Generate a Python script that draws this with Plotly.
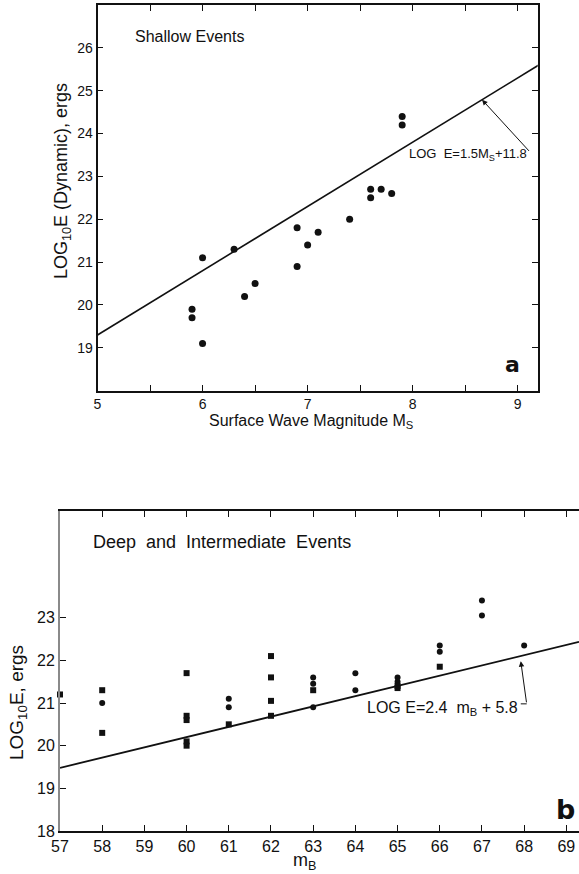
import plotly.graph_objects as go

# ---------------- Panel a: shallow events ----------------
ms_vals = [5.9, 5.9, 6.0, 6.0, 6.3, 6.4, 6.5, 6.9, 6.9, 7.0, 7.1, 7.4, 7.6, 7.6, 7.7, 7.8, 7.9, 7.9]
loge_a = [19.9, 19.7, 19.1, 21.1, 21.3, 20.2, 20.5, 21.8, 20.9, 21.4, 21.7, 22.0, 22.7, 22.5, 22.7, 22.6, 24.4, 24.2]
slope_a, icpt_a = 1.5, 11.8
line_a_x = [5.0, 9.2]

# ---------------- Panel b: deep and intermediate events ----------------
mb_circ = [58, 61, 61, 63, 63, 63, 64, 64, 65, 65, 66, 66, 67, 67, 68]
loge_b_circ = [21.0, 21.1, 20.9, 21.6, 21.45, 20.9, 21.7, 21.3, 21.6, 21.5, 22.35, 22.2, 23.4, 23.05, 22.35]
mb_sq = [57, 58, 58, 60, 60, 60, 60, 60, 61, 62, 62, 62, 62, 63, 65, 65, 66]
loge_b_sq = [21.2, 21.3, 20.3, 21.7, 20.7, 20.6, 20.1, 20.0, 20.5, 22.1, 21.6, 21.05, 20.7, 21.3, 21.4, 21.35, 21.85]
slope_b, icpt_b = 2.4, 5.8
line_b_x = [57, 69.3]

xa_ticks = [5, 6, 7, 8, 9]
ya_ticks = [19, 20, 21, 22, 23, 24, 25, 26]
xb_ticks = list(range(57, 70))
xb_text = [str(v) for v in xb_ticks]
yb_ticks = [18, 19, 20, 21, 22, 23]

FONT = "Liberation Sans"
INK = "#111111"

fig = go.Figure()

fig.add_trace(go.Scatter(
    x=line_a_x, y=[slope_a * v + icpt_a for v in line_a_x], mode="lines",
    line=dict(color=INK, width=1.6), xaxis="x", yaxis="y", showlegend=False, hoverinfo="skip"))
fig.add_trace(go.Scatter(
    x=ms_vals, y=loge_a, mode="markers",
    marker=dict(color=INK, size=7, symbol="circle"), xaxis="x", yaxis="y", showlegend=False))

fig.add_trace(go.Scatter(
    x=line_b_x, y=[slope_b * v / 10 + icpt_b for v in line_b_x], mode="lines",
    line=dict(color=INK, width=1.8), xaxis="x2", yaxis="y2", showlegend=False, hoverinfo="skip"))
fig.add_trace(go.Scatter(
    x=mb_circ, y=loge_b_circ, mode="markers",
    marker=dict(color=INK, size=6, symbol="circle"), xaxis="x2", yaxis="y2", showlegend=False))
fig.add_trace(go.Scatter(
    x=mb_sq, y=loge_b_sq, mode="markers",
    marker=dict(color=INK, size=6, symbol="square"), xaxis="x2", yaxis="y2",
    showlegend=False, cliponaxis=False))

W, H = 579, 874


def axis_style(size):
    return dict(showgrid=False, zeroline=False, ticks="inside", ticklen=6, tickwidth=1.3,
                tickcolor=INK, showline=True, linecolor=INK, linewidth=1.8,
                tickfont=dict(family=FONT, size=size, color=INK), automargin=False)


fig.update_layout(
    width=W, height=H,
    margin=dict(l=0, r=0, t=0, b=0),
    paper_bgcolor="white", plot_bgcolor="white",
    xaxis=dict(domain=[97.5 / W, 537.7 / W], range=[5, 9.19], anchor="y",
               tickvals=xa_ticks, mirror="ticks",
               minor=dict(dtick=0.5, ticks="inside", ticklen=6, tickwidth=1.3, tickcolor=INK,
                          showgrid=False),
               **axis_style(14)),
    yaxis=dict(domain=[1 - 390.7 / H, 1 - 5 / H], range=[18, 27], anchor="x",
               tickvals=ya_ticks, mirror="ticks", **axis_style(14)),
    xaxis2=dict(domain=[60 / W, 1.0], range=[57, 69.3], anchor="y2",
                tickvals=xb_ticks, ticktext=xb_text, mirror="ticks", **axis_style(16)),
    yaxis2=dict(domain=[1 - 831 / H, 1 - 511 / H], range=[18, 25.5], anchor="x2",
                tickvals=yb_ticks, mirror=False, **axis_style(16)),
)
fig.update_layout(yaxis2_linecolor="#8a8a8a")


def paper_text(text, px, py, size, angle=0):
    return dict(text=text, xref="paper", yref="paper", x=px / W, y=1 - py / H,
                xanchor="center", yanchor="middle", textangle=angle, showarrow=False,
                font=dict(family=FONT, size=size, color=INK))


ann = []
# axis titles
ann.append(paper_text("LOG<sub>10</sub>E (Dynamic), ergs", 62, 181, 18, -90))
ann.append(paper_text("Surface Wave Magnitude M<sub>S</sub>", 311, 421, 16))
ann.append(paper_text("LOG<sub>10</sub>E, ergs", 18, 703, 19, -90))
ann.append(paper_text("m<sub>B</sub>", 304, 861, 18))
# panel labels
ann.append(dict(text="Shallow Events", xref="x", yref="y", x=5.34, y=26.26, xanchor="left",
                yanchor="middle", showarrow=False, font=dict(family=FONT, size=16, color=INK)))
ann.append(dict(text="Deep  and  Intermediate  Events", xref="x2", yref="y2", x=57.73, y=24.78,
                xanchor="left", yanchor="middle", showarrow=False,
                font=dict(family=FONT, size=18, color=INK)))
ann.append(dict(text="<b>a</b>", xref="x", yref="y", x=8.95, y=18.62, showarrow=False,
                font=dict(family="DejaVu Sans", size=22, color=INK)))
ann.append(dict(text="<b>b</b>", xref="x2", yref="y2", x=68.97, y=18.5, showarrow=False,
                font=dict(family="DejaVu Sans", size=27, color=INK)))
# equation labels
ann.append(dict(text="LOG  E=1.5M<sub>S</sub>+11.8", xref="x", yref="y", x=7.95, y=23.51,
                xanchor="left", yanchor="middle", showarrow=False,
                font=dict(family=FONT, size=13, color=INK)))
ann.append(dict(x=8.66, y=slope_a * 8.66 + icpt_a, ax=9.12, ay=23.56, xref="x", yref="y",
                axref="x", ayref="y", showarrow=True, arrowhead=2, arrowsize=1.1,
                arrowwidth=1, arrowcolor=INK, text=""))
ann.append(dict(text="LOG E=2.4  m<sub>B</sub> + 5.8", xref="x2", yref="y2", x=67.9, y=20.88,
                xanchor="right", yanchor="middle", showarrow=False,
                font=dict(family=FONT, size=16, color=INK)))
ann.append(dict(x=67.92, y=21.98, ax=68.06, ay=20.98, xref="x2", yref="y2",
                axref="x2", ayref="y2", showarrow=True, arrowhead=2, arrowsize=1.1,
                arrowwidth=1, arrowcolor=INK, text=""))
fig.update_layout(annotations=ann)

fig.add_shape(type="line", xref="x2", yref="y2", x0=67.92, y0=20.98, x1=68.06, y1=20.98,
              line=dict(color=INK, width=1))

fig.write_html("out.html",
               config={"displayModeBar": False},
               post_script="document.body.style.margin='0';document.body.style.overflow='hidden';")
